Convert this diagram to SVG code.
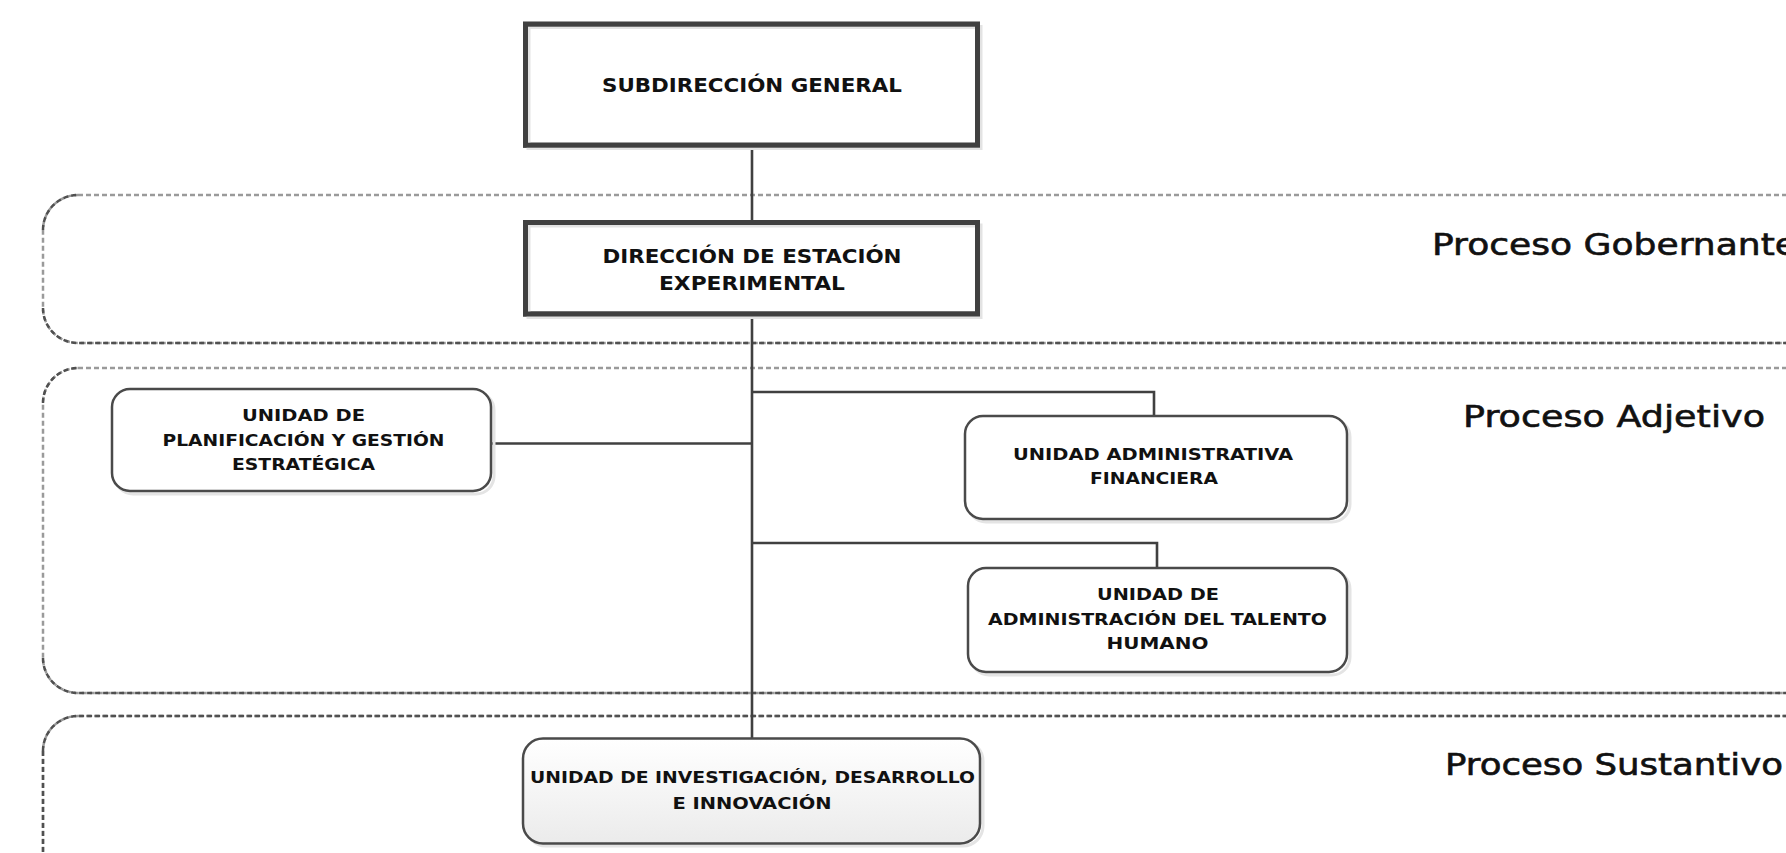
<svg xmlns="http://www.w3.org/2000/svg" width="1786" height="853" viewBox="0 0 1786 853">
<defs>
<linearGradient id="gradID" x1="0" y1="0" x2="0" y2="1">
<stop offset="0" stop-color="#ffffff"/>
<stop offset="1" stop-color="#ebebeb"/>
</linearGradient>
</defs>
<style>
.band{fill:none;stroke:#9a9a9a;stroke-width:2.5;stroke-dasharray:5 3}
.bandDark{fill:none;stroke:#505050;stroke-width:2.5;stroke-dasharray:5 3}
.box{fill:#ffffff;stroke:#404040;stroke-width:5}
.boxShadow{fill:none;stroke:#e3e3e3;stroke-width:4}
.rbox{fill:#ffffff;stroke:#4a4a4a;stroke-width:2.5}
.rshadow{fill:none;stroke:#e4e4e4;stroke-width:3}
.conn{fill:none;stroke:#404040;stroke-width:2.6}
.t1{font-family:"DejaVu Sans",Verdana,sans-serif;font-weight:bold;font-size:19.5px;fill:#111111;text-anchor:middle}
.t2{font-family:"DejaVu Sans",Verdana,sans-serif;font-weight:bold;font-size:15.5px;fill:#111111;text-anchor:middle}
.lbl{font-family:"DejaVu Sans",Verdana,sans-serif;font-size:30px;fill:#111111;stroke:#111111;stroke-width:0.6}
</style>
<rect width="1786" height="853" fill="#ffffff"/>

<g id="bands">
<g id="band-gobernante">
<rect class="band" x="43" y="195" width="1820" height="148" rx="35"/>
<path class="bandDark" d="M43,308 A35,35 0 0 0 78,343 H1863"/>
<path class="bandDark" d="M43,230 A35,35 0 0 1 78,195"/>
<text class="lbl" x="1432" y="255" textLength="365" lengthAdjust="spacingAndGlyphs">Proceso Gobernante</text>
</g>
<g id="band-adjetivo">
<rect class="band" x="43" y="368" width="1820" height="325" rx="35"/>
<path class="bandDark" d="M43,658 A35,35 0 0 0 78,693 H1863"/>
<path class="bandDark" d="M43,403 A35,35 0 0 1 78,368"/>
<text class="lbl" x="1463" y="427" textLength="302" lengthAdjust="spacingAndGlyphs">Proceso Adjetivo</text>
</g>
<g id="band-sustantivo">
<rect class="band" x="43" y="716" width="1820" height="200" rx="35"/>
<path class="bandDark" d="M43,751 A35,35 0 0 1 78,716 H1863"/>
<path class="bandDark" d="M43,751 V853"/>
<text class="lbl" x="1445" y="775" textLength="338" lengthAdjust="spacingAndGlyphs">Proceso Sustantivo</text>
</g>
</g>

<g id="connectors">
<path class="conn" d="M752,148 V738"/>
<path class="conn" d="M491,443.5 H752"/>
<path class="conn" d="M752,392 H1154 V416"/>
<path class="conn" d="M752,543 H1157 V568"/>
</g>

<g id="subdireccion">
<rect class="box" x="525.5" y="24.2" width="452" height="121"/>
<rect class="boxShadow" x="528.5" y="27" width="452" height="121"/>
<rect fill="none" stroke="#404040" stroke-width="5" x="525.5" y="24.2" width="452" height="121"/>
<text class="t1" x="752" y="91.7" textLength="300" lengthAdjust="spacingAndGlyphs">SUBDIRECCIÓN GENERAL</text>
</g>

<g id="direccion">
<rect class="box" x="525.5" y="222.5" width="452" height="91.5"/>
<rect class="boxShadow" x="528.5" y="225.5" width="452" height="91.5"/>
<rect fill="none" stroke="#404040" stroke-width="5" x="525.5" y="222.5" width="452" height="91.5"/>
<text class="t1" x="752" y="262.7" textLength="299" lengthAdjust="spacingAndGlyphs">DIRECCIÓN DE ESTACIÓN</text>
<text class="t1" x="752" y="290" textLength="186" lengthAdjust="spacingAndGlyphs">EXPERIMENTAL</text>
</g>

<g id="planificacion">
<rect class="rshadow" x="115" y="392" width="379" height="102" rx="18"/>
<rect class="rbox" x="112" y="389" width="379" height="102" rx="18"/>
<text class="t2" x="303.5" y="421" textLength="123" lengthAdjust="spacingAndGlyphs">UNIDAD DE</text>
<text class="t2" x="303.5" y="445.5" textLength="282" lengthAdjust="spacingAndGlyphs">PLANIFICACIÓN Y GESTIÓN</text>
<text class="t2" x="303.5" y="469.5" textLength="143" lengthAdjust="spacingAndGlyphs">ESTRATÉGICA</text>
</g>

<g id="admin-financiera">
<rect class="rshadow" x="968" y="419" width="382" height="103" rx="18"/>
<rect class="rbox" x="965" y="416" width="382" height="103" rx="18"/>
<text class="t2" x="1153" y="459.5" textLength="280" lengthAdjust="spacingAndGlyphs">UNIDAD ADMINISTRATIVA</text>
<text class="t2" x="1154" y="484" textLength="128" lengthAdjust="spacingAndGlyphs">FINANCIERA</text>
</g>

<g id="talento-humano">
<rect class="rshadow" x="971" y="571" width="379" height="104" rx="18"/>
<rect class="rbox" x="968" y="568" width="379" height="104" rx="18"/>
<text class="t2" x="1158" y="600" textLength="122" lengthAdjust="spacingAndGlyphs">UNIDAD DE</text>
<text class="t2" x="1157.5" y="625" textLength="339" lengthAdjust="spacingAndGlyphs">ADMINISTRACIÓN DEL TALENTO</text>
<text class="t2" x="1157.5" y="648.5" textLength="102" lengthAdjust="spacingAndGlyphs">HUMANO</text>
</g>

<g id="investigacion">
<rect class="rshadow" x="526" y="741" width="457" height="105" rx="20"/>
<rect class="rbox" x="523" y="738.5" width="457" height="105" rx="20" style="fill:url(#gradID)"/>
<text class="t2" x="752.5" y="783" textLength="445" lengthAdjust="spacingAndGlyphs">UNIDAD DE INVESTIGACIÓN, DESARROLLO</text>
<text class="t2" x="752" y="809" textLength="159" lengthAdjust="spacingAndGlyphs">E INNOVACIÓN</text>
</g>
</svg>
